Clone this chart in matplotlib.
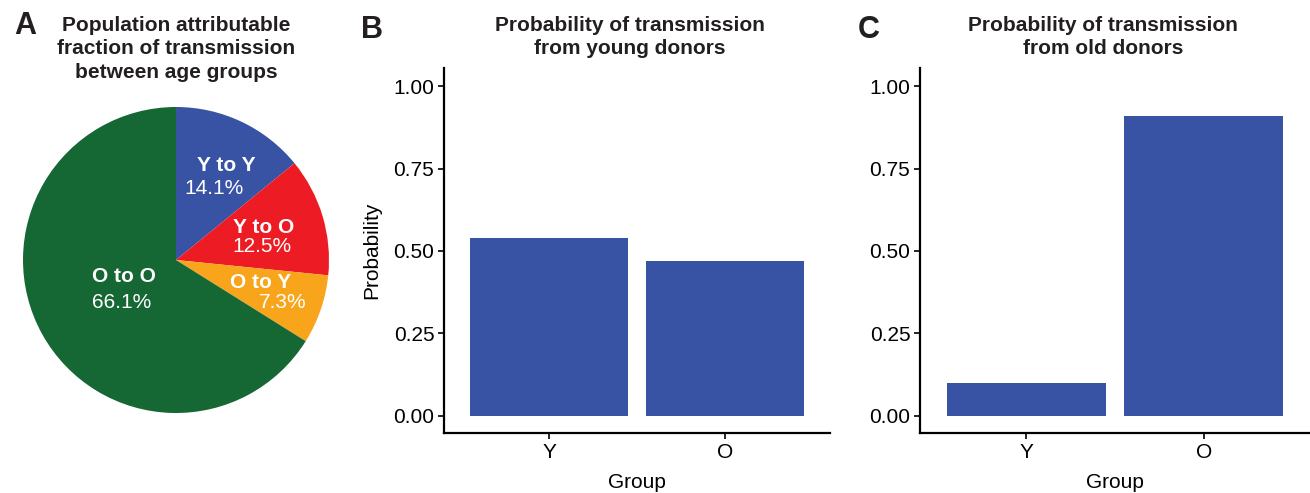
import matplotlib
matplotlib.use("Agg")
import matplotlib.pyplot as plt

plt.rcParams["font.family"] = ["Liberation Sans", "DejaVu Sans"]

# pie data (clockwise from 12 o'clock)
pie_labels = ["Y to Y", "Y to O", "O to Y", "O to O"]
pie_pct = [14.1, 12.5, 7.3, 66.1]
pie_colors = ["#3953A4", "#ED1C24", "#F8A51C", "#156734"]
# label anchor positions inside the pie (unit radius)
lab_pos = [(0.33, 0.62), (0.575, 0.215), (0.555, -0.145), (-0.34, -0.11)]
pct_pos = [(0.25, 0.47), (0.56, 0.085), (0.70, -0.275), (-0.355, -0.275)]

groups = ["Y", "O"]
prob_young = [0.54, 0.47]
prob_old = [0.10, 0.91]
bar_color = "#3953A4"

FS = 15
W, H = 1310, 493
fig = plt.figure(figsize=(W / 100, H / 100), dpi=100)


def px_axes(left, top, right, bottom):
    return fig.add_axes([left / W, 1 - bottom / H, (right - left) / W, (bottom - top) / H])


# ── Panel A: pie ─────────────────────────────────────────────────────────────
cx, cy, r = 176, 260, 153
axp = px_axes(cx - r, cy - r, cx + r, cy + r)
axp.pie(pie_pct, colors=pie_colors, startangle=90, counterclock=False, radius=1,
        wedgeprops=dict(linewidth=0))
axp.set_xlim(-1, 1)
axp.set_ylim(-1, 1)
axp.set_aspect("equal")
axp.axis("off")
for lab, p, (lx, ly), (px, py) in zip(pie_labels, pie_pct, lab_pos, pct_pos):
    axp.text(lx, ly, lab, color="white", fontsize=FS, fontweight="bold",
             ha="center", va="center")
    axp.text(px, py, f"{p}%", color="white", fontsize=FS, ha="center", va="center")

fig.text(176 / W, 1 - 49 / H,
         "Population attributable\nfraction of transmission\nbetween age groups",
         ha="center", va="center", fontsize=FS, fontweight="bold", linespacing=1.32,
         color="#231f20")
fig.text(25 / W, 1 - 26 / H, "A", fontsize=22, fontweight="bold", ha="center", va="center",
         color="#231f20")


# ── Panels B and C: bars ─────────────────────────────────────────────────────
def bar_panel(ax, values):
    x = range(len(groups))
    ax.bar(x, values, width=0.9, color=bar_color)
    ax.set_xlim(-0.6, 1.6)
    ax.set_ylim(-0.052, 1.055)
    ax.set_xticks(list(x))
    ax.set_xticklabels(groups)
    ax.set_yticks([0, 0.25, 0.5, 0.75, 1.0])
    ax.set_yticklabels(["0.00", "0.25", "0.50", "0.75", "1.00"])
    for s in ["top", "right"]:
        ax.spines[s].set_visible(False)
    for s in ["left", "bottom"]:
        ax.spines[s].set_linewidth(1.6)
    ax.tick_params(axis="both", length=4, width=1.2, labelsize=FS, colors="black",
                   pad=3)
    ax.set_xlabel("Group", fontsize=FS, labelpad=8)


axb = px_axes(444, 68, 830, 433)
bar_panel(axb, prob_young)
axb.set_ylabel("Probability", fontsize=FS, labelpad=9)

axc = px_axes(920, 68, 1310, 433)
bar_panel(axc, prob_old)

fig.text(630 / W, 1 - 37 / H, "Probability of transmission\nfrom young donors",
         ha="center", va="center", fontsize=FS, fontweight="bold", linespacing=1.32,
         color="#231f20")
fig.text(1103 / W, 1 - 37 / H, "Probability of transmission\nfrom old donors",
         ha="center", va="center", fontsize=FS, fontweight="bold", linespacing=1.32,
         color="#231f20")
fig.text(372 / W, 1 - 30 / H, "B", fontsize=22, fontweight="bold", ha="center", va="center",
         color="#231f20")
fig.text(869 / W, 1 - 30 / H, "C", fontsize=22, fontweight="bold", ha="center", va="center",
         color="#231f20")

fig.savefig("out.png", dpi=100)
